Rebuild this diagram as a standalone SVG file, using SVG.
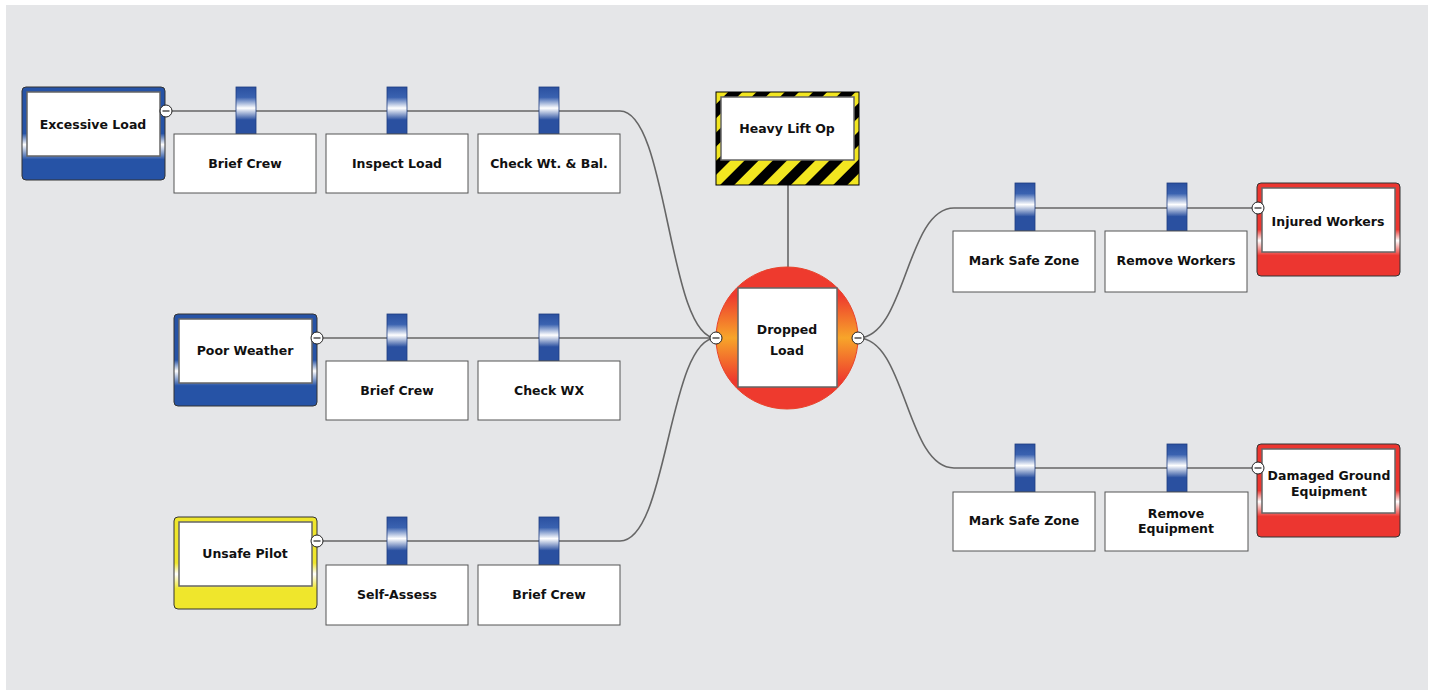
<svg xmlns="http://www.w3.org/2000/svg" width="1431" height="690" viewBox="0 0 1431 690">
<defs>
<linearGradient id="gBlue" x1="0" y1="0" x2="0" y2="1">
<stop offset="0" stop-color="#2653a6"/><stop offset="0.5" stop-color="#2653a6"/><stop offset="0.62" stop-color="#ffffff"/><stop offset="0.78" stop-color="#2653a6"/><stop offset="1" stop-color="#2653a6"/>
</linearGradient>
<linearGradient id="gRed" x1="0" y1="0" x2="0" y2="1">
<stop offset="0" stop-color="#ec3630"/><stop offset="0.5" stop-color="#ec3630"/><stop offset="0.62" stop-color="#ffffff"/><stop offset="0.78" stop-color="#ec3630"/><stop offset="1" stop-color="#ec3630"/>
</linearGradient>
<linearGradient id="gYellow" x1="0" y1="0" x2="0" y2="1">
<stop offset="0" stop-color="#efe62c"/><stop offset="0.5" stop-color="#efe62c"/><stop offset="0.62" stop-color="#ffffff"/><stop offset="0.78" stop-color="#efe62c"/><stop offset="1" stop-color="#efe62c"/>
</linearGradient>
<linearGradient id="gTab" x1="0" y1="0" x2="0" y2="1">
<stop offset="0" stop-color="#2a50a0"/><stop offset="0.22" stop-color="#3a62b0"/><stop offset="0.45" stop-color="#ffffff"/><stop offset="0.7" stop-color="#2a50a0"/><stop offset="1" stop-color="#2a50a0"/>
</linearGradient>
<linearGradient id="gCenter" x1="0" y1="0" x2="0" y2="1">
<stop offset="0" stop-color="#ee3a2e"/><stop offset="0.2" stop-color="#ee3a2e"/><stop offset="0.5" stop-color="#f7a52a"/><stop offset="0.8" stop-color="#ee3a2e"/><stop offset="1" stop-color="#ee3a2e"/>
</linearGradient>
<pattern id="hazard" width="20" height="20" patternUnits="userSpaceOnUse" patternTransform="rotate(45)">
<rect width="20" height="20" fill="#f2e620"/><rect width="10" height="20" fill="#000"/>
</pattern>
<g id="collapse"><circle r="6" fill="#fff" stroke="#222" stroke-width="1"/><line x1="-3.5" y1="0" x2="3.5" y2="0" stroke="#222" stroke-width="1.2"/></g>
</defs>
<style>
.bg{fill:#e5e6e8}
.line{fill:none;stroke:#666;stroke-width:1.6}
.outer{stroke:#333;stroke-width:1}
.inner{fill:#fff;stroke:#666;stroke-width:1.5}
.bar{fill:#fff;stroke:#555;stroke-width:1}
.tab{fill:url(#gTab);stroke:#1f3d80;stroke-width:0.8}
text{font-family:"DejaVu Sans",Verdana,sans-serif;font-weight:bold;font-size:12.5px;fill:#111;text-anchor:middle}
</style>
<rect class="bg" x="6" y="5" width="1422" height="685"/>
<g id="connectors">
<path class="line" d="M166 111 H620 C668 111 668 338 716 338"/>
<path class="line" d="M317 338 H716"/>
<path class="line" d="M317 541 H620 C668 541 668 338 716 338"/>
<path class="line" d="M788 185 V267"/>
<path class="line" d="M858 338 C906 338 906 208 954 208 H1258"/>
<path class="line" d="M858 338 C906 338 906 468 954 468 H1258"/>
</g>
<g id="hazard-heavy-lift">
<rect x="716" y="92" width="143" height="93" fill="url(#hazard)" stroke="#000" stroke-width="1"/>
<rect class="inner" x="721" y="97" width="133" height="63"/>
<text x="787" y="133">Heavy Lift Op</text>
</g>
<g id="top-event">
<circle cx="787" cy="338" r="71" fill="url(#gCenter)" stroke="#e8442c" stroke-width="1"/>
<rect class="inner" x="738" y="288" width="99" height="99"/>
<text x="787" y="334">Dropped</text>
<text x="787" y="355">Load</text>
<use href="#collapse" x="716" y="338"/>
<use href="#collapse" x="858" y="338"/>
</g>
<g id="threat-excessive-load">
<rect class="outer" x="22" y="87" width="143" height="93" rx="4" fill="url(#gBlue)"/>
<rect class="inner" x="27" y="92" width="133" height="64"/>
<text x="93" y="129">Excessive Load</text>
<use href="#collapse" x="166" y="111"/>
</g>
<g id="threat-poor-weather">
<rect class="outer" x="174" y="314" width="143" height="92" rx="4" fill="url(#gBlue)"/>
<rect class="inner" x="179" y="319" width="133" height="64"/>
<text x="245" y="355">Poor Weather</text>
<use href="#collapse" x="317" y="338"/>
</g>
<g id="threat-unsafe-pilot">
<rect class="outer" x="174" y="517" width="143" height="92" rx="4" fill="url(#gYellow)"/>
<rect class="inner" x="179" y="522" width="133" height="64"/>
<text x="245" y="558">Unsafe Pilot</text>
<use href="#collapse" x="317" y="541"/>
</g>
<g id="consequence-injured-workers">
<rect class="outer" x="1257" y="183" width="143" height="93" rx="4" fill="url(#gRed)"/>
<rect class="inner" x="1262" y="188" width="133" height="64"/>
<text x="1328" y="226">Injured Workers</text>
<use href="#collapse" x="1258" y="208"/>
</g>
<g id="consequence-damaged-equipment">
<rect class="outer" x="1257" y="444" width="143" height="93" rx="4" fill="url(#gRed)"/>
<rect class="inner" x="1262" y="449" width="133" height="64"/>
<text x="1329" y="480">Damaged Ground</text>
<text x="1329" y="496">Equipment</text>
<use href="#collapse" x="1258" y="468"/>
</g>
<g id="barrier-1-1"><rect class="tab" x="236" y="87" width="20" height="47"/><rect class="bar" x="174" y="134" width="142" height="59"/><text x="245" y="168">Brief Crew</text></g>
<g id="barrier-1-2"><rect class="tab" x="387" y="87" width="20" height="47"/><rect class="bar" x="326" y="134" width="142" height="59"/><text x="397" y="168">Inspect Load</text></g>
<g id="barrier-1-3"><rect class="tab" x="539" y="87" width="20" height="47"/><rect class="bar" x="478" y="134" width="142" height="59"/><text x="549" y="168">Check Wt. &amp; Bal.</text></g>
<g id="barrier-2-1"><rect class="tab" x="387" y="314" width="20" height="47"/><rect class="bar" x="326" y="361" width="142" height="59"/><text x="397" y="395">Brief Crew</text></g>
<g id="barrier-2-2"><rect class="tab" x="539" y="314" width="20" height="47"/><rect class="bar" x="478" y="361" width="142" height="59"/><text x="549" y="395">Check WX</text></g>
<g id="barrier-3-1"><rect class="tab" x="387" y="517" width="20" height="48"/><rect class="bar" x="326" y="565" width="142" height="60"/><text x="397" y="599">Self-Assess</text></g>
<g id="barrier-3-2"><rect class="tab" x="539" y="517" width="20" height="48"/><rect class="bar" x="478" y="565" width="142" height="60"/><text x="549" y="599">Brief Crew</text></g>
<g id="barrier-4-1"><rect class="tab" x="1015" y="183" width="20" height="48"/><rect class="bar" x="953" y="231" width="142" height="61"/><text x="1024" y="265">Mark Safe Zone</text></g>
<g id="barrier-4-2"><rect class="tab" x="1167" y="183" width="20" height="48"/><rect class="bar" x="1105" y="231" width="142" height="61"/><text x="1176" y="265">Remove Workers</text></g>
<g id="barrier-5-1"><rect class="tab" x="1015" y="444" width="20" height="48"/><rect class="bar" x="953" y="492" width="142" height="59"/><text x="1024" y="525">Mark Safe Zone</text></g>
<g id="barrier-5-2"><rect class="tab" x="1167" y="444" width="20" height="48"/><rect class="bar" x="1105" y="492" width="143" height="59"/><text x="1176" y="518">Remove</text><text x="1176" y="533">Equipment</text></g>
</svg>
